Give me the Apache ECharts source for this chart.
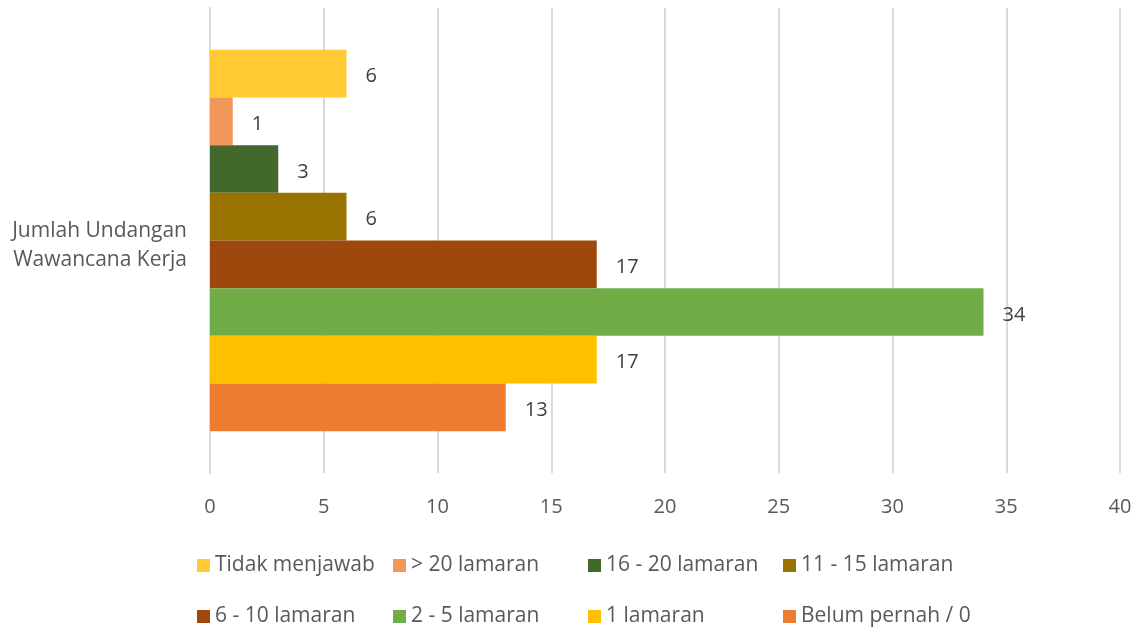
<!DOCTYPE html>
<html>
<head>
<meta charset="utf-8">
<script src="https://cdn.jsdelivr.net/npm/echarts@6/dist/echarts.min.js"></script>
<style>
  html, body { margin: 0; padding: 0; background: #fff; }
  #chart { width: 1138px; height: 631px; }
</style>
</head>
<body>
<div id="chart"></div>
<script>
const categories = ["Jumlah Undangan\nWawancana Kerja"];
const seriesNames = [
  "Tidak menjawab", "> 20 lamaran", "16 - 20 lamaran", "11 - 15 lamaran",
  "6 - 10 lamaran", "2 - 5 lamaran", "1 lamaran", "Belum pernah / 0"
];
const seriesValues = [6, 1, 3, 6, 17, 34, 17, 13];
const seriesColors = [
  "#FFCA33", "#F1975A", "#43682B", "#997300",
  "#9E480E", "#70AD47", "#FFC000", "#ED7D31"
];
const xTicks = { min: 0, max: 40, interval: 5 };

const FONT = "Open Sans";
const chart = echarts.init(document.getElementById("chart"));

const series = seriesNames.map((name, i) => ({
  name,
  type: "bar",
  data: [seriesValues[i]],
  itemStyle: { color: seriesColors[i] },
  barGap: "0%",
  barCategoryGap: "18%",
  label: {
    show: true,
    position: "right",
    distance: 19,
    offset: [0, 3],
    color: "#404040",
    fontFamily: FONT,
    fontSize: 20,
  },
}));

// legend: 4 columns x 2 rows, one legend component per entry
const legendCols = [197, 393, 588, 783];
const legendRows = [555, 606];
const legends = seriesNames.map((name, i) => ({
  data: [name],
  left: legendCols[i % 4],
  top: legendRows[Math.floor(i / 4)],
  padding: 0,
  itemWidth: 13,
  itemHeight: 13,
  icon: "rect",
  selectedMode: false,
  textStyle: { color: "#595959", fontFamily: FONT, fontSize: 21 },
}));

chart.setOption({
  animation: false,
  grid: { left: 210, right: 18, top: 8, bottom: 158, containLabel: false },
  xAxis: {
    type: "value",
    min: xTicks.min,
    max: xTicks.max,
    interval: xTicks.interval,
    axisLine: { show: false },
    axisTick: { show: false },
    axisLabel: { color: "#595959", fontFamily: FONT, fontSize: 20, margin: 24 },
    splitLine: { lineStyle: { color: "#d9d9d9", width: 2 } },
  },
  yAxis: {
    type: "category",
    data: categories,
    inverse: true,
    axisLine: { show: true, lineStyle: { color: "#d9d9d9", width: 2 } },
    axisTick: { show: false },
    axisLabel: {
      margin: 23,
      align: "right",
      color: "#595959",
      fontFamily: FONT,
      fontSize: 21,
      lineHeight: 29,
      // small blank line on top nudges the two text lines down a little
      formatter: (v) => "{pad| }\n" + v.split("\n").map((s) => "{t|" + s + "}").join("\n"),
      rich: {
        pad: { fontSize: 2, lineHeight: 10 },
        t: { color: "#595959", fontFamily: FONT, fontSize: 21, lineHeight: 29 },
      },
    },
  },
  legend: legends,
  series,
});
</script>
</body>
</html>
